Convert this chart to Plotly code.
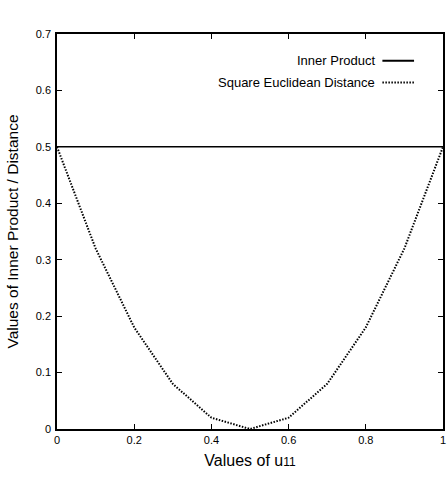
import plotly.graph_objects as go

u_values = [0.0, 0.1, 0.2, 0.3, 0.4, 0.5, 0.6, 0.7, 0.8, 0.9, 1.0]
inner_product = [0.5, 0.5, 0.5, 0.5, 0.5, 0.5, 0.5, 0.5, 0.5, 0.5, 0.5]
sq_euclid = [0.5, 0.32, 0.18, 0.08, 0.02, 0.0, 0.02, 0.08, 0.18, 0.32, 0.5]
x_ticks = [0, 0.2, 0.4, 0.6, 0.8, 1]
x_tick_labels = ["0", "0.2", "0.4", "0.6", "0.8", "1"]
y_ticks = [0, 0.1, 0.2, 0.3, 0.4, 0.5, 0.6, 0.7]
y_tick_labels = ["0", "0.1", "0.2", "0.3", "0.4", "0.5", "0.6", "0.7"]
legend_names = ["Inner Product", "Square Euclidean Distance"]

FONT = "Liberation Sans, Arial, sans-serif"
DOT = "1.5px,1.5px"

fig = go.Figure()
fig.add_trace(go.Scatter(x=u_values, y=inner_product, mode="lines",
                         line=dict(color="black", width=1.5), name=legend_names[0],
                         showlegend=False, cliponaxis=False))
fig.add_trace(go.Scatter(x=u_values, y=sq_euclid, mode="lines",
                         line=dict(color="black", width=2, dash=DOT), name=legend_names[1],
                         showlegend=False, cliponaxis=False))

# custom gnuplot-style legend (text left of sample line)
legend_y = [0.9325, 0.8775]
dashes = ["solid", DOT]
widths = [2, 2]
for name, ly, d, w in zip(legend_names, legend_y, dashes, widths):
    fig.add_annotation(xref="paper", yref="paper", x=0.83, y=ly, text=name,
                       showarrow=False, xanchor="right", yanchor="middle",
                       font=dict(family=FONT, size=13, color="black"))
    fig.add_shape(type="line", xref="paper", yref="paper", x0=0.843, x1=0.925,
                  y0=ly, y1=ly, line=dict(color="black", width=w, dash=d))

axis_common = dict(showline=True, linecolor="black", linewidth=1.5, mirror="ticks",
                   ticks="inside", ticklen=5, tickwidth=1, tickcolor="black",
                   showgrid=False, zeroline=False,
                   tickfont=dict(family=FONT, size=11, color="black"))

fig.update_xaxes(range=[0, 1], tickvals=x_ticks, ticktext=x_tick_labels,
                 title=dict(text="Values of u<span style='font-size:12px'>11</span>",
                            font=dict(family=FONT, size=16, color="black"), standoff=10),
                 **axis_common)
fig.update_yaxes(range=[0, 0.7], tickvals=y_ticks, ticktext=y_tick_labels,
                 title=dict(text="Values of Inner Product / Distance",
                            font=dict(family=FONT, size=15.5, color="black"), standoff=13),
                 ticklabelstandoff=2, **axis_common)

fig.update_layout(width=448, height=478, margin=dict(l=57, r=3, t=34, b=49),
                  plot_bgcolor="white", paper_bgcolor="white",
                  font=dict(family=FONT, color="black"))

fig.write_html("out.html")
